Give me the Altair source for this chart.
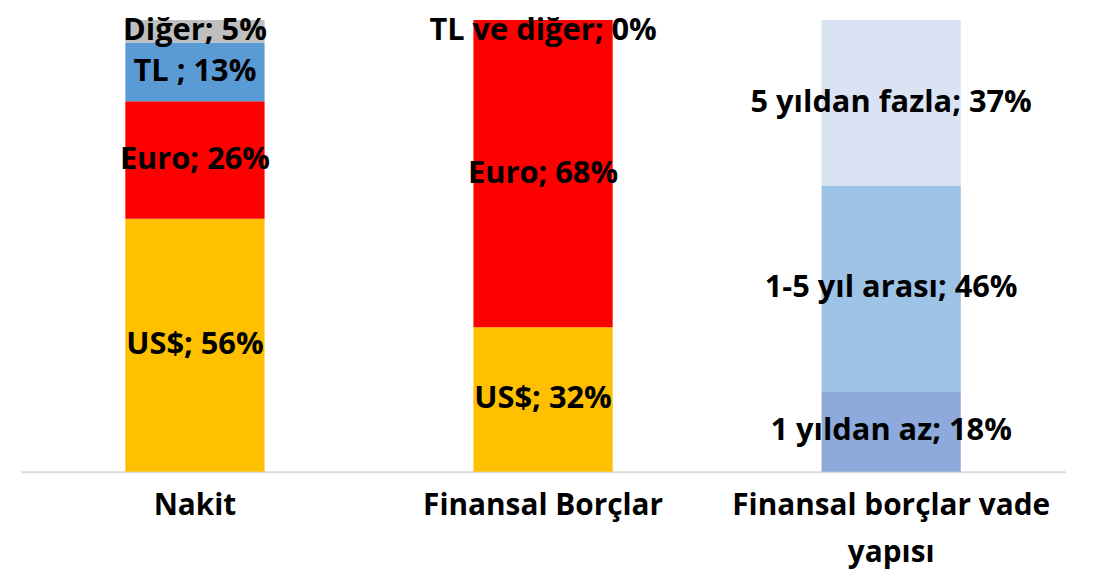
import altair as alt
import pandas as pd

categories = ["Nakit", "Finansal Borçlar", "Finansal borçlar vade yapısı"]

nakit_labels = ["US$", "Euro", "TL ", "Diğer"]
nakit_values = [56, 26, 13, 5]
nakit_colors = ["#FFC000", "#FF0000", "#5B9BD5", "#BFBFBF"]

borc_labels = ["US$", "Euro", "TL ve diğer"]
borc_values = [32, 68, 0]
borc_colors = ["#FFC000", "#FF0000", "#5B9BD5"]

vade_labels = ["1 yıldan az", "1-5 yıl arası", "5 yıldan fazla"]
vade_values = [18, 46, 37]
vade_colors = ["#8EA9DB", "#9DC3E6", "#DAE3F3"]

rows = []
for cat, labels, values, colors in [
    (categories[0], nakit_labels, nakit_values, nakit_colors),
    (categories[1], borc_labels, borc_values, borc_colors),
    (categories[2], vade_labels, vade_values, vade_colors),
]:
    for i, (lab, v, c) in enumerate(zip(labels, values, colors)):
        t = f"{lab}; {v}%"
        rows.append({"cat": cat, "seg": f"{cat}|{lab}", "name": lab, "value": v,
                     "order": i, "color": c,
                     "text_main": t if v > 0 else "",
                     "text_top": t if v == 0 else ""})
df = pd.DataFrame(rows)

font = "Open Sans"
fs = 31

x = alt.X("cat:N", sort=categories, title=None,
          scale=alt.Scale(paddingInner=0.6, paddingOuter=0.3),
          axis=alt.Axis(labelAngle=0, labelFont=font, labelFontWeight="bold",
                        labelFontSize=30, labelColor="#000000", labelPadding=34,
                        labelLineHeight=47, labelBaseline="middle", labelLimit=0,
                        ticks=False, domainColor="#D9D9D9", domainWidth=2,
                        labelExpr="datum.label == 'Finansal borçlar vade yapısı' ? ['Finansal borçlar vade', 'yapısı'] : datum.label"))

y = alt.Y("value:Q", stack="normalize", axis=None, scale=alt.Scale(domain=[0, 1], nice=False))

bars = alt.Chart(df).mark_bar().encode(
    x=x, y=y,
    color=alt.Color("color:N", scale=None),
    order=alt.Order("order:Q"),
    detail="seg:N",
)

def text_layer(field, dy):
    return alt.Chart(df).mark_text(font=font, fontWeight="bold", fontSize=fs,
                                   color="#000000", baseline="middle", dy=dy).encode(
        x=alt.X("cat:N", sort=categories),
        y=alt.Y("value:Q", stack="normalize", bandPosition=0.5),
        order=alt.Order("order:Q"),
        detail="seg:N",
        text=f"{field}:N",
    )

chart = alt.layer(bars, text_layer("text_main", 0), text_layer("text_top", 11)).properties(
    width=1052, height=455,
    autosize=alt.AutoSizeParams(type="none"),
    padding={"left": 13, "top": 10, "right": 29, "bottom": 107},
).configure_view(stroke=None)

chart.save("out.html", embed_options={"renderer": "svg", "actions": False})
